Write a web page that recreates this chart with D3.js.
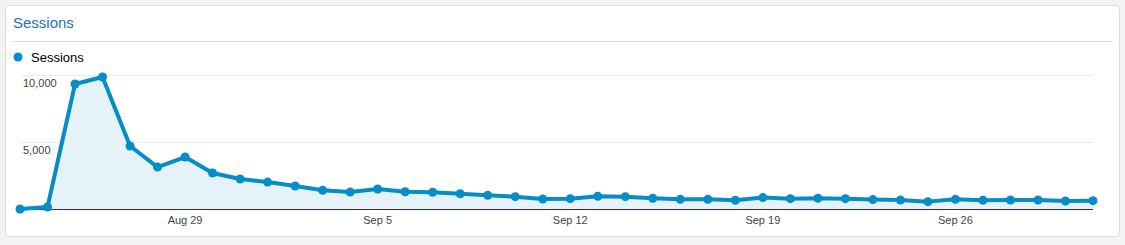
<!DOCTYPE html>
<html>
<head>
<meta charset="utf-8">
<script src="https://cdn.jsdelivr.net/npm/d3@7"></script>
<style>
  body { margin: 0; background: #f3f3f3; font-family: Arial, "Liberation Sans", sans-serif; }
  svg { display: block; }
</style>
</head>
<body>
<div id="chart"></div>
<script>
// daily sessions, Aug 23 -> Oct 1
var dates = d3.timeDay.range(new Date(2016, 7, 23), new Date(2016, 9, 2));
var sessions = [0, 150, 9330, 9850, 4700, 3130, 3880, 2690, 2240, 2010,
  1720, 1400, 1270, 1490, 1290, 1250, 1140, 1020, 920, 750,
  770, 950, 920, 800, 720, 720, 650, 850, 770, 800,
  770, 700, 670, 550, 720, 650, 670, 670, 600, 620];
var yTicks = [5000, 10000];
var xTicks = [new Date(2016, 7, 29), new Date(2016, 8, 5), new Date(2016, 8, 12), new Date(2016, 8, 19), new Date(2016, 8, 26)];

var data = dates.map(function(d, i) { return { date: d, value: sessions[i] }; });

var W = 1125, H = 245;
var svg = d3.select("#chart").append("svg").attr("width", W).attr("height", H);

// card
svg.append("rect")
  .attr("x", 5.5).attr("y", 5.5)
  .attr("width", 1114).attr("height", 231)
  .attr("rx", 3)
  .style("fill", "#fff")
  .style("stroke", "#dcdcdc");

svg.append("text")
  .attr("x", 13).attr("y", 28)
  .style("font-size", "15px")
  .style("fill", "#1a74c4")
  .text("Sessions");

svg.append("line")
  .attr("x1", 13).attr("x2", 1113)
  .attr("y1", 41.5).attr("y2", 41.5)
  .style("stroke", "#dddddd");

// legend
svg.append("circle").attr("cx", 18).attr("cy", 57).attr("r", 4.5).style("fill", "#058dc7");
svg.append("text")
  .attr("x", 31).attr("y", 62)
  .style("font-size", "13px")
  .style("fill", "#000")
  .text("Sessions");

var x = d3.scaleTime().domain(d3.extent(dates)).range([20, 1093]);
var y = d3.scaleLinear().domain([0, 10000]).range([209, 75]);

var g = svg.append("g");

// grid lines
g.selectAll(".grid")
  .data(yTicks)
  .enter().append("line")
    .attr("x1", 20).attr("x2", 1093)
    .attr("y1", function(d) { return Math.round(y(d)) + 0.5; })
    .attr("y2", function(d) { return Math.round(y(d)) + 0.5; })
    .style("stroke", "#ebebeb");

g.selectAll(".ylab")
  .data(yTicks)
  .enter().append("text")
    .attr("x", 23)
    .attr("y", function(d) { return y(d) + 12; })
    .style("font-size", "11px")
    .style("fill", "#444")
    .text(d3.format(","));

// area + line
g.append("path")
  .datum(data)
  .attr("d", d3.area().x(function(d) { return x(d.date); }).y0(y(0)).y1(function(d) { return y(d.value); }))
  .style("fill", "#e5f2f9");

g.append("line")
  .attr("x1", 20).attr("x2", 1093)
  .attr("y1", y(0) + 0.5).attr("y2", y(0) + 0.5)
  .style("stroke", "#333");

// x axis labels
g.selectAll(".xlab")
  .data(xTicks)
  .enter().append("text")
    .attr("x", function(d) { return x(d); })
    .attr("y", 224)
    .attr("text-anchor", "middle")
    .style("font-size", "11px")
    .style("fill", "#444")
    .text(d3.timeFormat("%b %-d"));

g.append("path")
  .datum(data)
  .attr("d", d3.line().x(function(d) { return x(d.date); }).y(function(d) { return y(d.value); }))
  .style("fill", "none")
  .style("stroke", "#058dc7")
  .style("stroke-width", 4)
  .style("stroke-linejoin", "round");

g.selectAll(".dot")
  .data(data)
  .enter().append("circle")
    .attr("cx", function(d) { return x(d.date); })
    .attr("cy", function(d) { return y(d.value); })
    .attr("r", 4.5)
    .style("fill", "#058dc7");
</script>
</body>
</html>
